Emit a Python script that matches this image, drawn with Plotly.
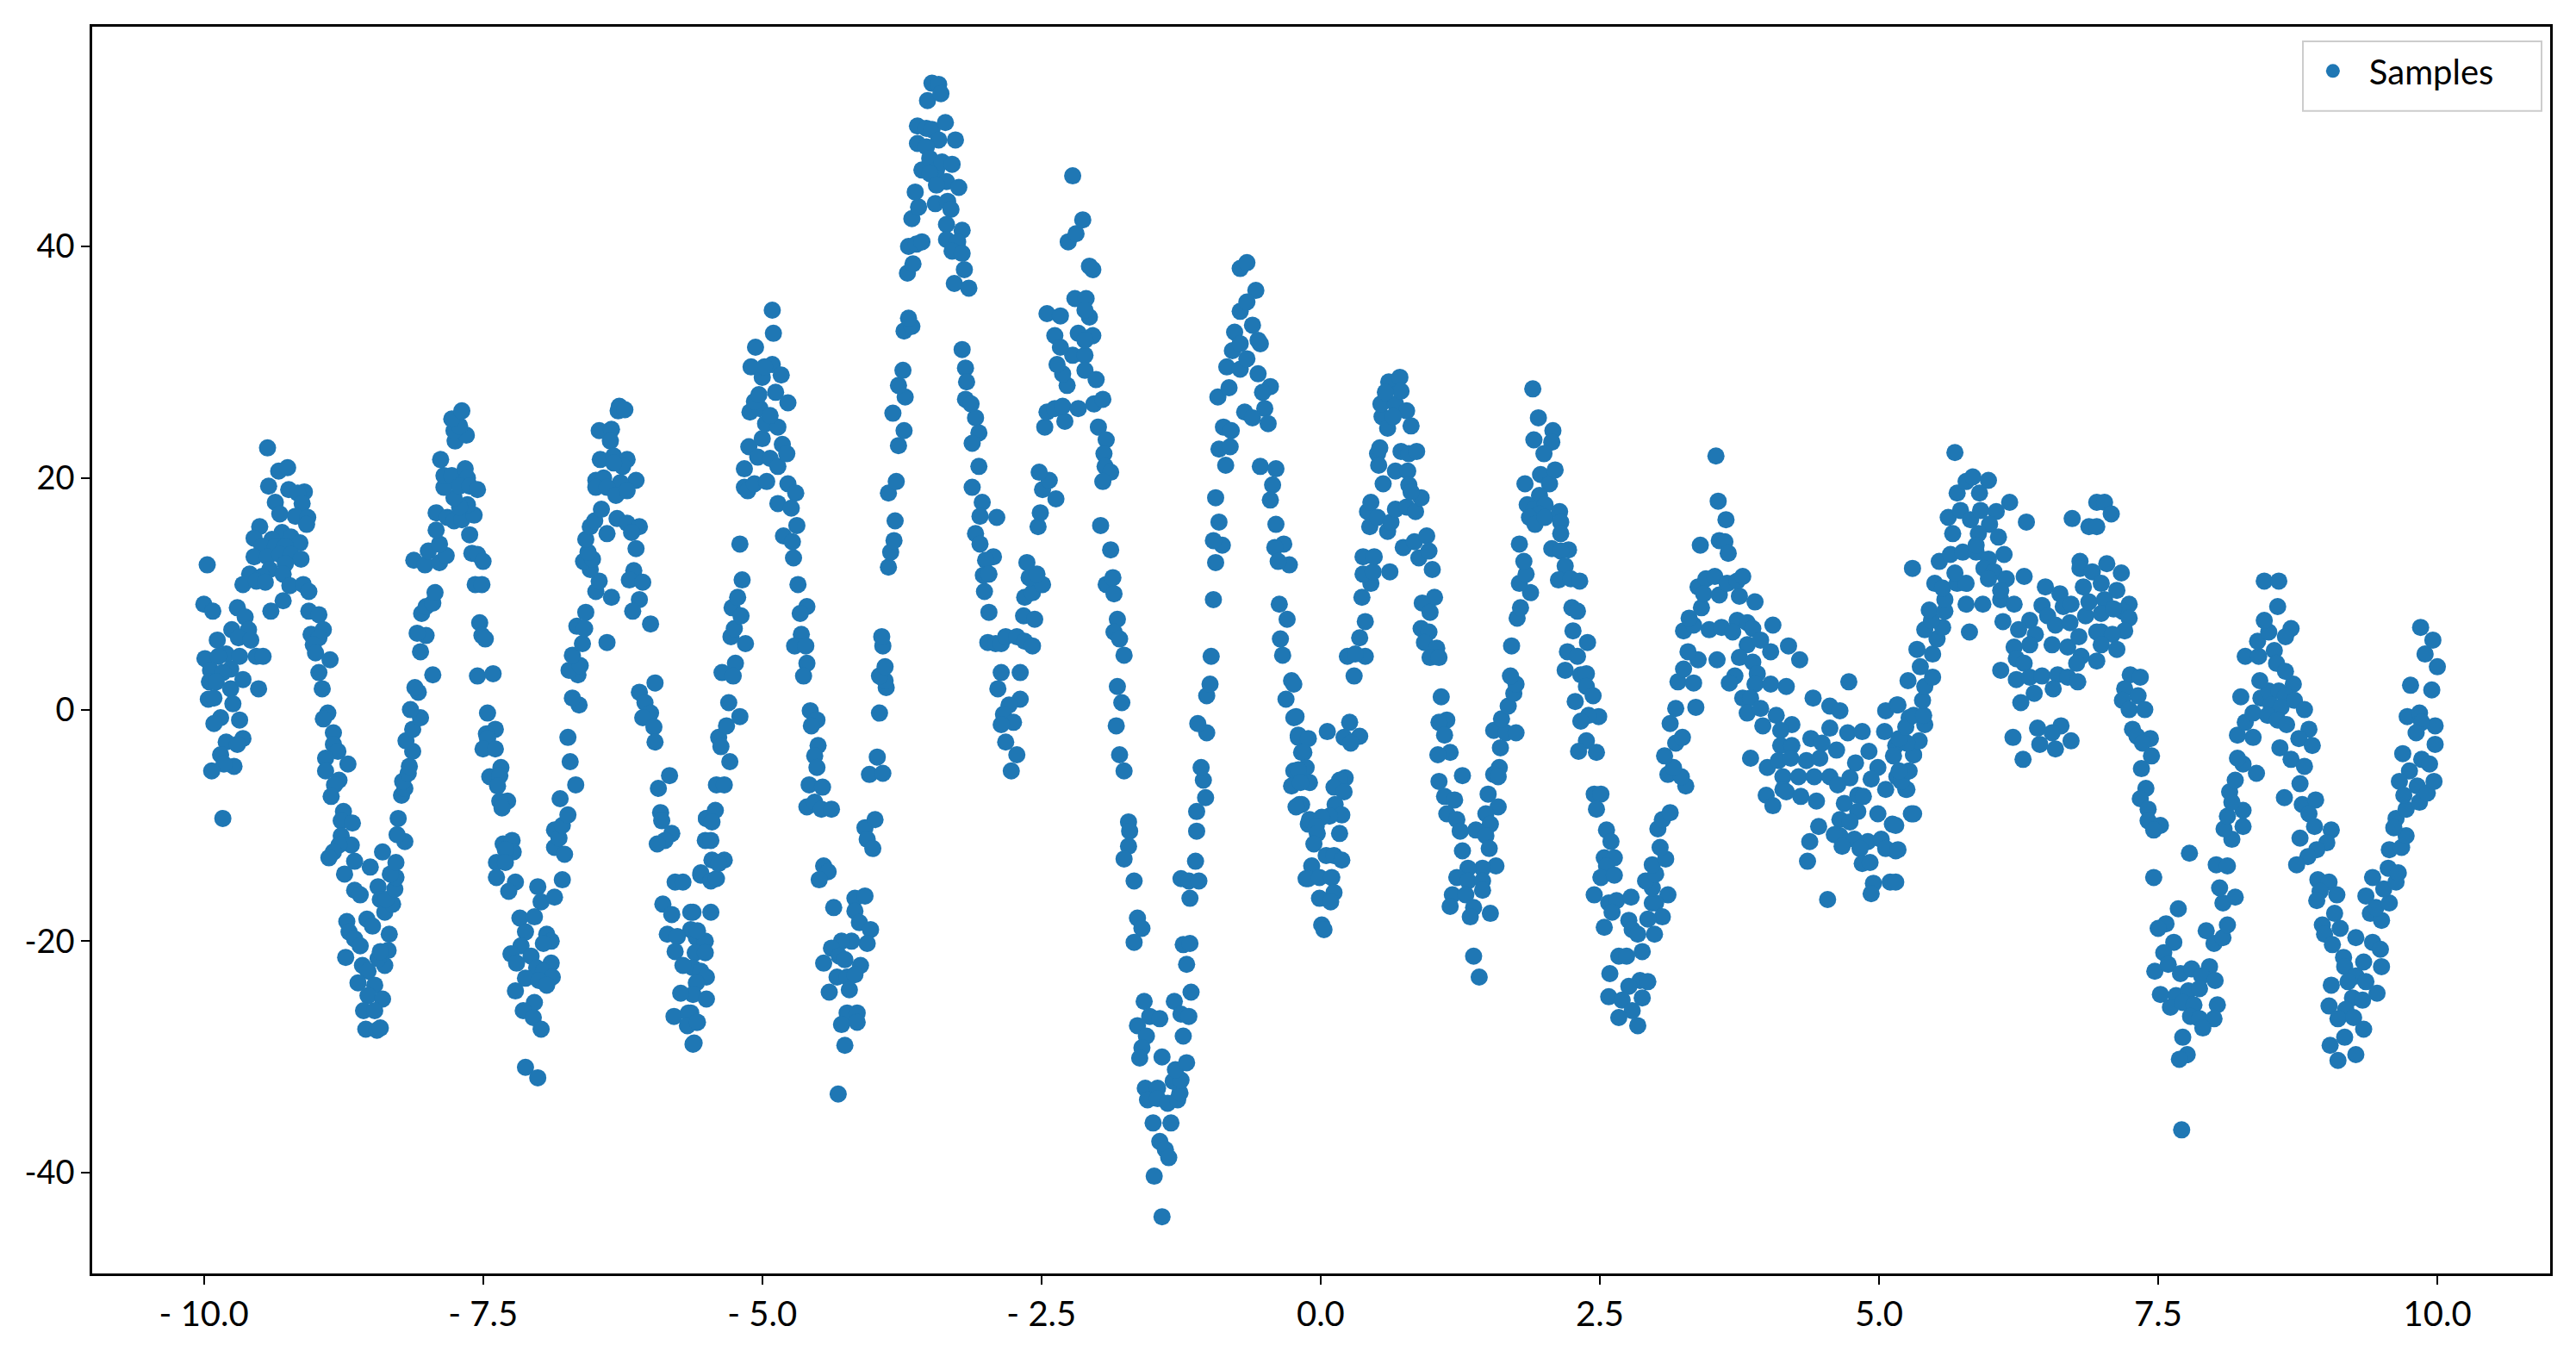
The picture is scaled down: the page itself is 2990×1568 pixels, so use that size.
import plotly.graph_objects as go

# Section A: x from -10.0 to about -5.5
x_a = [-9.97,-10.0,-9.92,-9.70,-9.63,-9.75,-9.60,-9.69,-9.58,-9.88,-9.99,-9.80,-9.87,-9.68,-9.53,-9.47,-9.94,-9.76,-9.83,-9.95,-9.89,-9.76,-9.65,-9.51,-9.96,-9.91,-9.74,-9.85,-9.91,-9.68,-9.65,-9.80,-9.70,-9.85,-9.73,-9.82,-9.93,-9.83,
-9.43,-9.33,-9.25,-9.42,-9.24,-9.10,-9.16,-9.36,-9.12,-9.32,-9.18,-9.07,-9.08,-9.50,-9.30,-9.55,-9.39,-9.22,-9.14,-9.48,-9.36,-9.27,-9.55,-9.43,-9.32,-9.22,-9.13,-9.27,-9.41,-9.59,-9.48,-9.29,-9.65,-9.53,-9.45,-9.23,-9.11,-9.06,-9.29,-9.40,-9.06,-8.97,-8.93,-9.04,-8.97,-9.02,-9.0,-8.87,-8.97,-8.94,-8.89,-8.93,-8.84,-8.84,-8.80,-8.71,-8.91,-8.91,-8.79,-8.83,-8.86,-8.75,-8.77,-8.67,-8.77,-8.68,-8.79,-8.84,-8.88,-8.65,-8.51,-8.40,-8.74,-8.65,-8.60,-8.44,-8.42,-8.72,-8.70,-8.54,-8.49,-8.65,-8.60,-8.73,-8.58,-8.53,-8.62,-8.47,-8.53,-8.40,-8.57,-8.47,-8.55,-8.45,-8.42,-8.38,-8.44,-8.35,-8.42,-8.34,-8.38,-8.31,-8.37,-8.29,-8.28,-8.33,-8.28,-8.2,-8.27,-8.26,-8.23,-8.2,-8.22,-8.17,-8.16,-8.13,-8.19,-8.13,-8.06,-8.15,-8.08,-8.11,-7.95,-8.06,-8.01,-8.09,-8.05,-8.01,-7.95,-7.93,-8.12,-8.02,-7.99,-7.89,-7.83,-7.89,-7.92,-7.92,-7.82,-7.76,-7.69,-7.58,-7.64,-7.71,-7.76,-7.85,-7.85,-7.78,-7.66,-7.64,-7.71,-7.62,-7.55,-7.88,-7.75,-7.65,-7.76,-7.71,-7.78,-7.69,-7.62,-7.60,-7.55,-7.50,-7.57,-7.51,-7.53,-7.51,-7.48,-7.55,-7.41,-7.46,-7.39,-7.47,-7.46,-7.5,-7.39,-7.34,-7.44,-7.35,-7.37,-7.28,-7.35,-7.33,-7.32,-7.24,-7.23,-7.30,-7.38,-7.30,-7.38,-7.21,-7.27,-7.01,-6.98,-6.86,-6.79,-7.17,-7.04,-7.12,-6.93,-6.89,-6.96,-7.16,-7.25,-7.07,-7.20,-6.89,-7.02,-6.96,-6.88,-7.12,-7.0,-6.93,-7.21,-7.04,-7.14,-7.05,-6.98,-7.12,-7.01,
-6.86,-6.77,-6.86,-6.82,-6.79,-6.74,-6.81,-6.67,-6.72,-6.74,-6.64,-6.70,-6.65,-6.73,-6.63,-6.70,-6.61,-6.66,-6.59,-6.58,-6.35,-6.49,-6.46,-6.54,-6.60,-6.52,-6.56,-6.58,-6.54,-6.50,-6.39,-6.44,-6.30,-6.21,-6.10,-6.17,-6.13,-6.15,-6.19,-6.07,-6.10,-6.16,-6.0,-6.39,-5.96,-6.10,-6.05,-6.0,-6.07,-5.97,-5.96,-5.83,-5.93,-5.91,-5.90,-5.81,-5.87,-5.94,
-6.28,-6.29,-6.23,-6.46,-6.35,-6.36,-6.45,-6.33,-6.21,-6.25,-6.33,-6.49,-6.42,-6.13,-6.27,-6.49,-6.39,-6.31,-6.21,
-5.62,-5.46,-5.64,-5.59,-5.51,-5.60,-5.51,-5.62,-5.55,-5.50,-5.59,-5.62,-5.50,-5.64,-5.59,-5.61,-5.78,-5.71,-5.89,-5.81,-5.64,-5.55,-5.85,-5.76,-5.58,-5.78,-5.71,-5.73,-5.79,-5.66,-5.67,-5.58,-5.62,-5.5,-5.51]
y_a = [12.5,9.1,8.5,8.8,8.0,6.9,6.9,6.2,6.0,6.0,4.4,4.8,4.6,4.6,4.6,4.6,3.4,3.5,3.2,2.4,2.4,1.8,2.6,1.8,0.9,1.0,0.5,-0.7,-1.2,-0.9,-2.5,-2.8,-3.0,-3.9,-4.9,-4.7,-5.3,-9.4,
22.6,20.6,20.9,19.3,19.0,18.8,18.7,17.9,17.8,16.9,16.7,16.6,16.0,15.8,15.3,14.8,14.7,14.9,14.4,14.1,14.1,14.1,13.2,13.2,13.4,13.4,13.0,12.6,12.1,11.7,11.5,11.7,10.8,11.1,11.0,10.7,10.8,10.2,9.4,8.5,8.5,8.2,6.9,6.5,6.2,5.6,4.9,4.3,3.2,1.8,-0.3,-0.8,-2.0,-3.0,-3.6,-4.7,-4.2,-5.3,-6.1,-6.5,-7.5,-8.8,-9.6,-9.8,-10.9,-11.7,-11.7,-12.3,-12.8,-13.1,-13.6,-12.3,-14.2,-15.6,-16.0,-15.3,-16.4,-18.3,-19.2,-18.1,-18.7,-19.8,-20.4,-21.4,-22.1,-22.6,-23.6,-23.8,-24.7,-25.0,-26.0,-26.0,-27.6,-27.7,-27.5,-22.1,-21.5,-20.8,-20.9,-19.4,-17.5,-16.8,-16.4,-15.5,-14.5,-14.2,-13.2,-11.4,-10.8,-9.4,-7.4,-6.8,-6.2,-5.5,-4.9,-3.6,-2.7,-1.7,-0.7,0.0,1.5,1.9,3.0,5.0,6.4,6.6,8.3,8.9,9.2,10.1,12.9,12.5,13.7,12.7,13.3,14.3,15.5,17.0,16.6,16.3,16.4,16.8,17.7,17.5,18.3,19.2,20.2,20.2,20.8,20.0,19.3,19.3,19.0,21.6,23.2,23.7,24.1,24.5,25.1,25.8,15.1,13.5,13.4,12.8,10.8,10.8,7.5,6.4,6.1,2.9,3.1,-0.3,-1.7,-2.1,-2.5,-3.4,-3.4,-5.0,-5.8,-5.7,-6.6,-7.9,-7.9,-8.5,-11.6,-11.3,-12.3,-12.1,-13.2,-13.2,-14.5,-14.9,-15.7,-15.3,-16.6,-16.2,-14.7,-18.0,-17.9,-19.2,-19.4,-20.0,-20.2,-20.4,-21.1,-21.3,-21.9,-21.9,-22.3,-22.6,-23.1,-23.2,-23.4,-23.8,-24.3,-25.3,-26.0,-26.6,-27.6,-30.9,-31.8,
-11.9,-12.5,-10.4,-11.1,-10.0,-9.1,-7.7,-6.5,-4.5,-2.4,0.4,1.0,3.0,3.4,3.8,4.7,5.7,7.2,7.0,8.4,9.7,10.2,11.1,12.1,12.8,13.0,13.6,14.7,15.8,16.3,15.2,17.3,16.5,16.1,15.8,15.3,13.9,12.0,11.2,11.0,9.5,8.5,7.4,5.8,2.3,1.5,0.6,-0.3,-0.7,-1.5,-2.8,-5.7,-6.8,-8.9,-9.6,-10.7,-11.3,-11.6,
26.2,25.8,25.9,24.1,24.2,23.2,21.6,21.9,21.6,21.0,21.3,19.8,20.0,19.8,19.6,19.2,19.2,18.5,18.9,
-17.5,-17.5,-19.0,-19.7,-20.0,-21.0,-21.0,-22.3,-22.6,-23.1,-23.6,-24.6,-25.0,-26.2,-27.0,-28.8,-14.9,-14.9,-16.8,-17.7,-17.5,-14.3,-19.4,-19.6,-19.1,-20.9,-22.1,-24.5,-26.5,-26.2,-27.3,-27.0,-28.9,-9.4,-11.3]

# Section B: x from about -5.5 to -0.1
x_b = [-5.55,-5.46,-5.41,-5.45,-5.34,-5.39,-5.46,-5.50,-5.42,-5.45,-5.41,-5.34,-5.29,-5.39,-5.37,-5.32,-5.30,-5.20,-5.36,-5.24,-5.26,-5.15,-5.28,-5.25,-5.27,-5.19,-5.22,-5.18,-5.20,-5.16,-5.13,-5.16,-5.07,-4.96,-5.12,-5.04,-4.93,-4.86,-5.0,-4.82,-4.78,-5.11,-5.02,-4.97,-4.86,-4.93,-5.07,-5.03,-4.88,-4.77,-5.10,-5.0,-4.91,-4.83,-4.98,-5.06,-4.90,-4.91,
-4.77,-4.70,-4.86,-4.74,-4.69,-4.81,-4.73,-4.72,-4.68,-4.6,-4.66,-4.65,-4.71,-4.61,-4.6,-4.63,-4.57,-4.51,-4.56,-4.5,-4.53,-4.51,-4.58,-4.46,-4.6,-4.53,-4.47,-4.38,-4.45,-4.41,-4.49,-4.36,
-4.17,-4.08,-4.17,-4.13,-4.03,-4.06,-4.20,-4.29,-4.38,-4.45,-4.31,-4.26,-4.12,-4.33,-4.24,-4.17,-4.40,-4.22,-4.24,-4.15,-4.29,-4.15,-4.26,-4.32,
-4.08,-3.99,-4.06,-4.01,-4.04,-3.92,-3.97,-3.95,-3.89,-3.9,-3.95,-3.9,-3.92,-3.93,-3.87,-3.85,-3.82,-3.81,-3.87,-3.80,-3.78,-3.73,-3.83,-3.72,-3.78,-3.74,-3.73,-3.66,-3.69,-3.70,-3.65,-3.69,-3.62,-3.57,-3.66,-3.60,-3.63,
-3.61,-3.61,-3.53,-3.48,-3.36,-3.27,-3.42,-3.53,-3.57,-3.50,-3.44,-3.39,-3.30,-3.50,-3.35,-3.44,-3.24,-3.45,-3.34,-3.31,-3.52,-3.48,-3.42,-3.40,
-3.35,-3.21,-3.35,-3.25,-3.30,-3.21,-3.19,-3.28,-3.15,-3.21,-3.18,-3.17,-3.18,-3.13,-3.09,-3.06,-3.12,-3.06,-3.12,-3.03,-3.05,-2.90,-3.09,-3.05,-2.93,-3.0,-3.02,-2.97,-3.01,-2.97,-2.98,-2.91,-2.86,-2.82,-2.72,-2.65,-2.58,-2.86,-2.69,-2.89,-2.69,-2.79,-2.84,-2.75,-2.86,-2.82,-2.72,-2.77,
-2.66,-2.56,-2.65,-2.58,-2.49,-2.61,-2.54,-2.63,-2.53,-2.51,-2.37,-2.49,-2.43,-2.52,-2.47,-2.29,-2.45,-2.38,-2.31,-2.17,-2.27,-2.31,-2.36,-2.22,-2.11,-2.17,-2.04,-2.11,-2.38,-2.33,-2.45,-2.33,-2.20,-2.10,-2.07,-2.11,-2.26,-2.19,-2.13,-2.07,-2.04,-2.22,
-2.11,-2.01,-2.03,-1.95,-1.99,-1.92,-1.94,-1.93,-1.88,-1.95,-1.97,-1.88,-1.92,-1.86,-1.85,-1.82,-1.85,-1.80,-1.76,-1.82,-1.78,-1.83,-1.80,-1.76,-1.72,-1.71,-1.72,-1.76,-1.67,-1.64,-1.60,-1.67,
-1.58,-1.53,-1.44,-1.64,-1.56,-1.23,-1.60,-1.62,-1.42,-1.57,-1.46,-1.55,-1.46,-1.37,-1.28,-1.26,-1.32,-1.25,-1.30,-1.20,-1.50,-1.34,-1.44,-1.39,-1.36,-1.49,-1.42,-1.31,-1.25,-1.18,-1.16,-1.20,-1.23,-1.17,-1.17,-1.25,-1.18,-1.09,-1.12,-1.11,-1.11,-1.03,-1.05,-1.07,-1.02,-1.10,-1.02,-0.99,-0.98,-0.96,-0.94,-0.88,-0.96,-0.91,-0.94,-0.85,-0.91,-0.81,-0.87,-0.80,-0.92,-0.82,-0.84,-0.72,-0.79,-0.66,-0.77,-0.72,-0.61,-0.54,-0.56,-0.72,-0.58,-0.66,-0.72,-0.66,
-0.56,-0.45,-0.52,-0.50,-0.47,-0.68,-0.61,-0.54,-0.40,-0.43,-0.45,-0.40,-0.33,-0.41,-0.28,-0.38,-0.37,-0.30,-0.36,-0.34,-0.26,-0.31,-0.24,-0.20,-0.17,-0.24,-0.26,-0.19,-0.11,-0.13]
y_b = [-14.1,-14.8,-14.6,-13.0,-13.0,-13.3,-11.3,-9.4,-8.7,-9.7,-6.5,-6.5,-4.5,-2.4,-3.2,-1.4,0.6,-0.6,3.2,4.0,2.9,5.7,6.3,7.0,8.8,8.1,9.7,11.2,14.3,19.2,18.9,20.8,19.5,19.7,22.7,21.8,21.7,21.0,23.4,22.9,22.1,25.7,26.0,24.7,24.4,25.4,26.6,27.2,27.4,26.5,29.6,28.7,29.8,28.9,29.6,31.3,32.5,34.5,
19.5,18.7,17.8,17.4,15.9,15.0,14.5,13.1,10.8,8.9,8.3,6.5,5.5,5.5,4.0,2.9,-0.1,-0.9,-1.4,-3.1,-4.0,-5.0,-6.5,-6.7,-8.4,-8.0,-8.6,-8.6,-13.5,-14.0,-14.7,-17.1,
-16.3,-16.1,-17.4,-18.4,-19.0,-20.2,-20.0,-20.0,-20.6,-21.9,-21.3,-21.6,-22.1,-23.1,-23.1,-22.9,-24.4,-24.2,-26.2,-26.2,-27.2,-27.0,-29.0,-33.2,
-10.2,-9.5,-11.2,-12.0,-5.6,-5.5,-4.1,-0.3,1.9,2.5,2.9,3.7,5.5,6.3,12.3,13.6,14.6,16.3,18.7,19.7,22.8,24.1,25.6,27.0,28.0,29.3,32.7,33.1,33.8,37.7,38.5,40.0,40.2,40.4,42.4,43.4,44.7,
48.9,50.4,50.2,50.1,50.7,49.2,49.2,48.6,46.6,47.6,46.6,47.3,47.1,46.3,45.6,45.3,45.1,43.7,43.9,43.2,52.6,54.1,54.0,53.2,
41.9,41.4,40.6,40.4,39.6,39.4,38.0,36.8,36.4,31.1,29.5,28.3,26.8,26.4,25.2,23.9,23.0,21.0,19.2,17.9,16.7,16.6,15.2,14.3,13.2,12.9,11.6,11.7,10.2,8.4,5.8,5.7,5.7,6.3,6.3,5.9,5.5,3.2,3.2,1.8,0.9,0.4,-0.4,-1.1,-1.3,-2.8,-3.9,-5.3,
8.1,7.8,9.7,10.1,10.8,11.4,11.7,12.7,15.8,17.0,18.2,19.0,19.8,20.5,24.4,24.9,25.7,26.0,26.2,26.0,28.0,29.0,29.8,30.6,30.6,32.5,32.3,31.9,32.3,31.3,34.2,34.0,35.5,35.5,33.9,34.5,40.4,41.1,42.3,38.3,38.0,46.1,
29.3,28.5,26.4,26.8,24.4,23.3,22.1,21.0,20.5,19.7,15.9,13.8,10.8,11.4,10.0,7.8,6.7,6.1,4.7,2.0,0.6,-1.4,-3.9,-5.3,-9.7,-10.5,-11.8,-12.9,-14.8,-18.0,-18.9,-20.1,
-25.2,-26.5,-26.7,-27.3,-28.2,-28.2,-29.2,-30.1,-30.0,-32.7,-32.7,-33.7,-33.6,-34.0,-33.7,-33.1,-32.1,-32.0,-31.1,-30.5,-35.7,-35.7,-37.3,-38.0,-38.7,-40.3,-43.8,-25.2,-26.3,-26.5,-24.4,-22.0,-20.3,-20.2,-16.3,-14.6,-14.8,-14.8,-13.1,-10.5,-8.8,-7.6,-6.1,-5.0,-2.0,-1.2,1.2,2.2,4.6,9.5,12.7,14.2,14.6,16.2,18.3,21.1,22.5,22.7,24.4,24.1,27.0,27.8,29.6,29.4,31.0,30.3,32.6,31.6,33.2,31.6,31.9,34.4,36.2,35.2,38.1,38.6,
29.0,27.9,27.4,26.0,24.7,25.7,25.2,21.0,20.8,19.4,18.1,16.0,14.3,14.0,12.5,12.8,9.1,7.8,6.1,4.7,2.5,0.9,-0.7,-2.4,-3.7,-5.3,-6.6,-8.2,-9.9,-14.6]

# Section C: x from about -0.25 to 5.3
x_c = [-0.24,-0.22,-0.2,-0.11,-0.15,-0.13,-0.2,-0.10,-0.18,-0.17,-0.22,0.06,0.26,0.21,0.35,0.27,0.22,0.17,0.12,0.21,0.13,0.19,0.08,-0.10,0.01,-0.04,-0.03,0.17,-0.06,0.05,0.12,0.19,-0.08,-0.11,-0.01,0.10,0.12,-0.01,0.09,0.01,0.03,
0.30,0.24,0.40,0.31,0.35,0.40,0.37,0.45,0.38,0.47,0.62,0.38,0.48,0.44,0.60,0.42,0.45,0.51,0.63,0.67,0.74,0.84,0.95,0.88,0.97,1.0,0.77,0.85,0.90,0.56,0.67,0.78,0.79,0.81,0.51,0.53,0.52,0.72,0.79,0.86,0.55,0.60,0.54,0.67,0.77,0.81,0.61,0.71,0.72,0.58,0.65,
1.02,0.91,0.98,0.90,0.97,0.93,1.04,0.98,1.06,1.08,1.13,1.06,1.11,1.16,1.05,1.27,1.06,1.11,1.20,1.13,1.22,1.25,1.27,1.50,1.59,1.48,1.52,1.39,1.48,1.51,1.57,1.45,1.32,1.22,1.32,1.45,1.45,1.18,1.30,1.16,1.37,1.34,1.52,1.37,1.42,
1.60,1.55,1.59,1.61,1.55,1.66,1.75,1.62,1.68,1.73,1.75,1.70,1.71,1.76,1.79,1.88,1.78,1.84,1.82,1.78,1.83,1.97,2.05,1.90,1.95,2.08,1.91,2.07,2.0,2.10,1.96,1.85,1.91,2.01,1.96,1.87,1.92,2.01,2.14,2.15,2.15,2.07,2.22,2.15,2.19,2.13,2.24,2.32,2.25,2.30,2.26,2.39,2.21,2.30,2.19,2.33,2.38,2.38,2.44,2.28,2.49,2.40,2.33,2.38,2.31,2.47,
2.45,2.51,2.47,2.56,2.60,2.54,2.63,2.56,2.51,2.63,2.45,2.58,2.65,2.78,2.61,2.54,2.76,2.79,2.84,2.99,2.88,2.67,2.74,2.59,2.86,2.93,2.76,2.58,2.88,2.70,2.79,2.67,2.84,
3.11,3.0,3.06,2.93,2.97,2.97,2.91,3.0,2.97,3.09,3.04,3.02,3.06,3.13,3.27,3.11,3.23,3.16,3.08,3.18,3.24,3.13,3.18,3.36,3.20,3.34,3.25,3.38,3.29,3.25,3.34,3.30,3.41,3.38,3.45,3.53,3.43,3.57,3.64,3.73,3.78,3.75,3.40,3.57,3.62,3.65,3.63,3.56,3.54,
3.89,4.05,3.48,3.59,3.73,3.82,3.87,3.69,3.55,3.82,3.94,4.03,3.75,3.87,4.19,4.29,3.91,3.71,3.66,3.89,4.03,4.17,3.78,3.85,3.82,3.94,4.08,3.96,4.73,4.41,4.56,4.65,5.06,5.16,
4.22,4.12,4.39,4.56,4.72,4.85,5.05,5.27,4.12,4.22,4.49,4.62,4.91,5.15,5.13,5.31,3.85,4.0,4.10,4.21,4.35,4.47,4.79,4.99,5.24,5.16,4.14,4.28,4.42,4.56,4.74,4.93,4.14,3.99,4.05,4.17,4.30,4.44,4.63,4.81,5.06,5.24,4.69,4.86,4.99,4.81,4.65,5.29,4.74,5.12,4.46,4.65,4.78,4.90,5.02,5.15,5.06,4.38,4.6,4.67,4.83,4.36,4.85,4.92,4.95,4.93,5.10,4.54]
y_c = [2.2,-0.6,-2.2,-2.5,-3.7,-5.0,-5.2,-6.3,-6.3,-8.2,-8.4,-1.9,-1.1,-2.4,-2.3,-2.9,-5.9,-6.1,-6.7,-7.1,-8.2,-9.1,-9.2,-9.5,-9.3,-10.1,-10.7,-10.7,-11.6,-12.6,-12.6,-13.0,-13.5,-14.6,-14.5,-14.5,-15.8,-16.3,-16.6,-18.6,-19.0,
2.9,4.6,4.6,4.8,6.2,7.6,9.7,10.9,11.7,11.9,11.9,13.2,13.2,15.8,15.4,17.1,17.9,16.6,16.2,17.3,14.0,14.5,15.0,13.1,13.7,12.1,17.5,17.1,18.3,19.5,20.6,20.6,19.4,18.8,22.1,22.6,21.1,22.3,22.1,22.3,25.3,24.3,26.4,26.4,25.8,24.5,28.3,28.7,27.5,27.4,25.3,
9.7,9.2,8.4,7.0,6.7,5.8,5.3,4.5,4.5,1.1,-0.9,-1.1,-2.2,-3.7,-3.9,-5.7,-6.2,-7.5,-7.8,-9.0,-9.5,-10.5,-12.2,-7.3,-8.4,-9.0,-9.9,-10.4,-10.9,-12.0,-13.5,-13.7,-13.7,-14.5,-14.8,-14.8,-15.6,-16.0,-16.0,-17.0,-17.1,-17.9,-17.6,-21.3,-23.1,
-5.0,-5.6,-5.8,-3.3,-1.8,-2.0,-2.0,-0.8,0.3,1.4,2.2,2.9,5.5,7.9,8.8,10.1,10.9,11.7,12.8,14.3,19.5,20.3,19.5,27.7,25.2,24.1,23.3,23.1,22.1,20.7,18.5,17.7,17.3,17.7,16.9,16.6,16.0,16.6,17.1,16.2,15.2,13.9,13.8,13.7,12.4,11.2,11.3,11.1,8.8,8.5,6.8,5.8,5.0,4.6,3.4,3.0,3.1,2.0,1.2,0.7,-0.6,-0.5,-1.0,-2.7,-3.6,-3.7,
-7.3,-7.3,-8.6,-10.4,-11.4,-12.8,-12.8,-13.5,-14.5,-14.3,-16.0,-16.7,-16.5,-16.2,-17.5,-18.8,-18.2,-19.0,-19.4,-19.4,-20.9,-21.3,-21.3,-22.8,-23.4,-23.5,-23.9,-24.8,-24.9,-25.1,-26.0,-26.6,-27.3,
-16.0,-16.7,-17.9,-18.1,-16.7,-15.4,-14.8,-14.2,-13.4,-12.9,-11.9,-10.3,-9.5,-8.9,-6.6,-5.6,-5.8,-5.0,-4.0,-2.9,-2.4,-1.2,0.1,0.2,2.4,2.3,3.5,4.3,5.0,6.8,7.3,7.9,8.8,10.6,11.3,11.5,10.0,9.9,10.9,11.1,11.5,9.8,14.2,14.6,14.5,13.5,16.4,18.0,21.9,
9.3,7.3,6.9,7.1,7.7,7.5,7.0,6.7,4.3,5.6,6.0,5.0,4.5,4.1,5.5,4.3,3.1,2.9,2.3,2.2,2.2,2.0,1.0,1.0,-0.3,0.1,-0.5,-1.4,2.4,1.0,0.3,-0.1,-0.1,0.4,
-1.3,-1.8,-2.5,-1.6,-2.0,-1.9,-1.9,-0.7,-3.1,-3.1,-2.9,-3.5,-3.6,-3.1,-4.0,-3.9,-4.2,-5.0,-4.4,-4.2,-4.4,-4.2,-4.6,-5.0,-5.4,-5.8,-5.8,-5.8,-5.8,-5.8,-5.9,-6.0,-6.9,-7.4,-8.3,-7.1,-7.5,-7.9,-6.5,-7.4,-6.9,-6.9,-8.1,-7.5,-9.0,-8.8,-9.5,-9.0,-9.7,-9.9,-10.1,-10.9,-11.2,-11.4,-11.2,-12.2,-12.0,-11.4,-10.8,-11.8,-12.0,-13.1,-13.3,-13.2,-15.0,-15.9,-14.9,-16.4]

# Section D: x from about 5.15 to 10.0
x_d = [5.15,5.17,5.15,5.31,5.25,5.20,5.27,5.18,5.31,5.36,5.25,5.18,5.24,5.41,5.31,5.40,5.17,5.39,5.26,5.41,5.48,5.37,5.34,5.48,5.52,5.57,5.41,5.47,5.45,5.59,5.59,5.50,5.57,5.70,5.78,5.68,5.54,5.64,5.75,5.87,5.30,
5.81,5.78,5.93,6.09,6.21,6.11,5.98,6.12,5.94,6.03,6.14,6.30,6.09,5.98,5.66,5.62,5.73,5.82,5.91,6.05,5.99,6.07,5.89,5.87,6.17,6.32,5.70,5.90,5.78,5.84,5.98,5.68,
6.49,6.62,6.46,6.35,6.51,6.65,6.72,6.25,6.40,6.58,6.71,6.85,6.21,6.35,6.55,6.69,6.79,6.99,6.23,6.09,6.30,6.81,6.95,6.77,6.23,6.35,6.46,6.60,6.69,6.78,6.39,6.56,6.27,6.20,6.42,6.63,6.55,6.44,6.72,6.58,6.29,
6.73,6.95,7.02,7.08,6.88,6.95,6.80,6.80,6.91,7.04,7.17,6.83,6.99,7.13,6.88,7.02,7.24,7.18,6.99,7.24,7.10,7.20,6.95,7.09,6.99,7.13,
7.25,7.34,7.20,7.32,7.18,7.24,7.38,7.27,7.31,7.43,7.36,7.44,7.35,7.39,7.34,7.41,7.41,7.52,7.46,7.78,7.46,
7.68,7.57,7.50,7.64,7.55,7.47,7.59,7.70,7.80,7.96,7.89,8.01,7.52,7.66,7.77,7.87,7.61,7.72,7.82,8.03,7.79,7.87,8.0,7.90,7.72,7.76,7.69,7.71,
7.93,8.0,8.08,8.12,8.08,8.19,8.05,8.02,8.12,8.16,8.09,8.26,8.12,8.26,8.16,8.14,8.19,8.38,8.26,8.21,8.21,8.35,8.28,8.35,8.24,8.42,8.49,8.41,8.71,8.58,8.64,8.51,8.60,8.48,8.57,8.72,8.81,8.65,8.28,8.40,8.54,8.56,8.64,8.39,8.49,8.45,8.69,8.64,8.57,8.45,8.58,
8.85,8.76,8.88,8.59,8.69,8.81,8.77,8.63,8.79,8.91,8.85,8.90,9.05,8.77,9.01,8.92,8.84,8.74,8.93,9.03,8.95,9.10,8.92,9.08,8.97,9.13,8.99,9.06,9.27,9.16,9.17,9.34,9.42,9.49,9.50,9.27,9.20,9.36,9.05,9.46,9.24,9.33,9.03,9.18,9.11,9.25,9.34,9.17,9.04,9.27,9.11,
9.36,9.40,9.50,9.45,9.57,9.42,9.52,9.63,9.56,9.65,9.57,9.68,9.72,9.63,9.61,9.72,9.75,9.66,9.70,9.82,9.84,9.91,9.97,9.69,9.86,9.93,9.98,9.98,9.73,9.84,9.86,9.81,9.76,9.95,10.0,9.89,9.96,9.85]
y_d = [-14.9,-12.1,-10.0,-9.0,-6.9,-6.2,-5.3,-5.3,-3.9,-2.7,-2.9,-2.5,-1.5,-1.3,-0.5,-0.5,0.4,0.8,2.5,2.0,2.8,3.7,5.2,4.8,6.1,7.1,6.9,7.7,8.6,8.5,9.5,10.9,10.5,10.9,10.9,11.8,12.8,13.4,13.6,13.6,12.2,
6.7,9.1,9.1,9.5,9.1,7.6,13.0,13.4,12.2,11.9,11.3,11.5,10.3,11.3,15.2,16.6,17.2,16.4,17.2,17.1,16.0,14.9,15.2,14.2,17.9,16.2,18.7,18.7,19.7,20.1,19.8,22.2,
10.6,10.0,9.0,7.7,8.1,8.9,9.1,6.9,6.5,7.3,7.5,8.1,5.4,5.6,5.6,5.4,6.3,6.7,4.4,3.4,4.0,4.6,4.2,4.0,2.6,2.8,2.9,3.0,2.8,2.4,1.4,1.8,0.6,-2.4,-1.6,-1.4,-2.0,-3.0,-2.7,-3.4,-4.3,
16.5,17.9,17.9,16.9,15.8,15.8,12.8,12.2,11.9,12.6,11.8,10.6,10.9,10.3,9.3,9.5,9.1,8.5,8.3,7.9,8.7,6.8,6.7,6.5,5.6,5.2,
3.0,2.8,1.8,1.2,0.8,0.0,0.0,-1.7,-2.3,-2.5,-2.9,-4.0,-5.1,-6.8,-7.7,-8.6,-9.6,-10.0,-10.4,-12.4,-14.5,
-17.2,-18.5,-18.9,-20.1,-21.0,-22.6,-22.0,-22.8,-22.4,-22.2,-23.0,-23.4,-24.6,-24.7,-24.3,-24.1,-25.7,-25.3,-25.5,-25.5,-26.5,-26.7,-26.7,-27.5,-28.3,-29.8,-30.2,-36.3,
-19.1,-20.2,-19.7,-18.6,-16.7,-16.2,-15.4,-13.4,-13.5,-11.2,-10.3,-10.1,-9.2,-8.7,-8.0,-7.1,-6.1,-5.5,-4.7,-4.2,-2.2,-2.4,-1.1,-0.3,1.1,1.0,1.6,2.5,2.2,1.6,1.2,0.4,0.2,-0.5,-0.9,0.8,0.0,-1.3,4.6,4.6,5.1,4.0,3.3,5.9,6.7,7.7,7.0,6.3,8.9,11.1,11.1,
-1.7,-2.5,-3.1,-3.3,-4.3,-4.9,-6.4,-7.6,-8.2,-7.8,-9.0,-10.1,-10.4,-11.1,-11.5,-12.1,-12.7,-13.4,-14.7,-14.9,-15.7,-16.0,-16.5,-17.6,-18.6,-18.9,-19.4,-20.3,-19.7,-21.4,-22.2,-21.8,-20.1,-20.7,-22.2,-23.0,-23.5,-23.5,-23.8,-24.5,-24.9,-25.1,-25.6,-25.9,-26.7,-26.6,-27.6,-28.3,-29.0,-29.8,-30.3,
-16.1,-17.6,-18.2,-17.1,-16.7,-14.5,-15.5,-14.9,-13.7,-14.1,-12.1,-11.9,-10.9,-9.4,-10.2,-8.6,-5.3,-6.2,-7.4,-6.6,-8.0,-7.2,-6.2,-3.8,-4.3,-4.7,-3.0,-1.4,-0.6,-0.3,-1.1,-2.0,2.1,1.7,3.7,4.8,6.0,7.1]

x_values = x_a + x_b + x_c + x_d
y_values = y_a + y_b + y_c + y_d

x_ticks = [-10.0, -7.5, -5.0, -2.5, 0.0, 2.5, 5.0, 7.5, 10.0]
x_tick_labels = ["- 10.0", "- 7.5", "- 5.0", "- 2.5", "0.0", "2.5", "5.0", "7.5", "10.0"]
y_ticks = [-40, -20, 0, 20, 40]
y_tick_labels = ["-40", "-20", "0", "20", "40"]
series_name = "Samples"

FONT = "Lato, Calibri, sans-serif"
fig = go.Figure(go.Scatter(x=x_values, y=y_values, mode="markers", name=series_name,
                           marker=dict(color="#1f77b4", size=20, line=dict(width=0))))
fig.update_layout(
    width=2974, height=1552, autosize=False, plot_bgcolor="white", paper_bgcolor="white",
    margin=dict(l=99, r=22, t=23, b=79, pad=0),
    font=dict(family=FONT, size=38, color="black"),
    showlegend=True,
    legend=dict(x=0.8969, y=0.9645, xanchor="left", yanchor="middle", bgcolor="rgba(255,255,255,0)",
                borderwidth=0, itemwidth=74, font=dict(size=40)),
    shapes=[dict(type="rect", xref="paper", yref="paper", x0=0.8994, x1=0.9965, y0=0.93241, y1=0.98828,
                 line=dict(color="#cccccc", width=2), fillcolor="rgba(255,255,255,0)", layer="above")],
)
axis_style = dict(showgrid=False, zeroline=False, showline=True, mirror=True, linecolor="black",
                  linewidth=2.5, ticks="outside", ticklen=10, tickwidth=2, tickcolor="black")
fig.update_xaxes(range=[-11.0, 11.01], tickmode="array", tickvals=x_ticks, ticktext=x_tick_labels,
                 tickfont=dict(size=40), **axis_style)
fig.update_yaxes(range=[-48.7, 58.98], tickmode="array", tickvals=y_ticks, ticktext=y_tick_labels, **axis_style)
fig.write_html("out.html")
